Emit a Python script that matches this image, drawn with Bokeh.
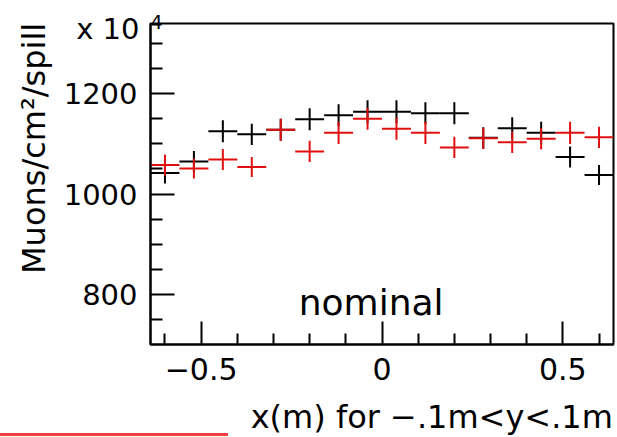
from bokeh.plotting import figure
from bokeh.models import Range1d, FixedTicker, Label, LinearAxis
from bokeh.embed import file_html
from bokeh.resources import INLINE

# ---- data ----
bin_centers = [-0.60, -0.52, -0.44, -0.36, -0.28, -0.20, -0.12, -0.04,
               0.04, 0.12, 0.20, 0.28, 0.36, 0.44, 0.52, 0.60]
bin_half_width = [0.04] * 16
black_vals = [1042, 1065, 1125, 1119, 1128, 1149, 1157, 1164,
              1164, 1161, 1161, 1112, 1131, 1122, 1074, 1038]
black_errs = [21, 21, 22, 21, 22, 22, 22, 23, 23, 22, 22, 21, 22, 22, 21, 20]
red_vals = [1058, 1051, 1069, 1054, 1128, 1085, 1122, 1150,
            1130, 1122, 1093, 1111, 1103, 1110, 1122, 1113]
red_errs = [21, 20, 21, 20, 22, 21, 22, 22, 22, 22, 21, 21, 21, 21, 22, 21]

x_major = [-0.5, 0.0, 0.5]
x_major_labels = {-0.5: "\u22120.5", 0.0: "0", 0.5: "0.5"}
x_minor = [-0.6, -0.4, -0.3, -0.2, -0.1, 0.1, 0.2, 0.3, 0.4, 0.6]
y_major = [800, 1000, 1200]
y_minor = [750, 850, 900, 950, 1050, 1100, 1150, 1250, 1300]
multiplier_pos = 1329
multiplier = "x 10"
exponent_pos = -0.6234
exponent = "4"

x_title = "x(m) for \u2212.1m<y<.1m"
x_title_pos = 0.1376
y_title = "Muons/cm\u00b2/spill"
note = "nominal"

FONT = "DejaVu Sans"
RED = "#e01010"
NBSP = "\u00a0"

p = figure(width=617, height=437, output_backend="svg", toolbar_location=None,
           x_range=Range1d(-0.64, 0.64), y_range=Range1d(700, 1340),
           min_border_left=150, min_border_right=4, min_border_top=23,
           min_border_bottom=93)
p.grid.visible = False
p.outline_line_color = "black"
p.outline_line_width = 2
p.background_fill_color = "white"
p.border_fill_color = None
# thin red stroke at the page's bottom-left corner (page decoration)
p.styles = {"background-color": "white",
            "background-image": "linear-gradient(#f04040, #f04040)",
            "background-repeat": "no-repeat",
            "background-position": "0px 433px",
            "background-size": "228px 3px"}


def text_axis(ticks, overrides, standoff, size, **kw):
    """An axis that only carries label text (no line, no ticks)."""
    return LinearAxis(ticker=FixedTicker(ticks=ticks),
                      major_label_overrides=overrides,
                      axis_line_color=None, major_tick_line_color=None,
                      minor_tick_line_color=None, major_tick_in=0, major_tick_out=0,
                      minor_tick_in=0, minor_tick_out=0,
                      major_label_standoff=standoff, major_label_text_font=FONT,
                      major_label_text_font_size=size,
                      major_label_text_color="black", **kw)


# x axis
xa = p.xaxis[0]
xa.ticker = FixedTicker(ticks=x_major, minor_ticks=x_minor)
xa.major_label_overrides = x_major_labels
xa.major_tick_in = 23
xa.major_tick_out = 0
xa.minor_tick_in = 11
xa.minor_tick_out = 0
xa.major_label_standoff = 13
xa.major_label_text_font = FONT
xa.major_label_text_font_size = "30px"
xa.major_label_text_color = "black"
xa.axis_line_width = 2
xa.major_tick_line_width = 2
xa.minor_tick_line_width = 2

# y axis
ya = p.yaxis[0]
ya.ticker = FixedTicker(ticks=y_major, minor_ticks=y_minor)
ya.major_tick_in = 24
ya.major_tick_out = 0
ya.minor_tick_in = 12
ya.minor_tick_out = 0
ya.major_label_standoff = 13
ya.major_label_text_font = FONT
ya.major_label_text_font_size = "29px"
ya.major_label_text_color = "black"
ya.axis_line_width = 2
ya.major_tick_line_width = 2
ya.minor_tick_line_width = 2
ya.axis_label = NBSP * 7 + y_title
ya.axis_label_text_font = FONT
ya.axis_label_text_font_size = "32px"
ya.axis_label_text_font_style = "normal"
ya.axis_label_text_color = "black"
ya.axis_label_standoff = 8

# "x 10" multiplier of the y axis (extra left axis, label pulled inwards)
p.add_layout(text_axis([multiplier_pos], {multiplier_pos: multiplier}, -128, "29px"), "left")

# exponent "4" of the multiplier, at the frame's top-left corner
p.add_layout(text_axis([exponent_pos], {exponent_pos: exponent}, -5, "19px"), "above")

# x-axis title, right-aligned under the frame (label pushed below the frame)
p.add_layout(text_axis([x_title_pos], {x_title_pos: x_title}, -424, "32px"), "above")


def draw(vals, errs, color):
    x0 = [c - h for c, h in zip(bin_centers, bin_half_width)]
    x1 = [c + h for c, h in zip(bin_centers, bin_half_width)]
    p.segment(x0=x0, y0=vals, x1=x1, y1=vals, line_color=color, line_width=2)
    lo = [v - e for v, e in zip(vals, errs)]
    hi = [v + e for v, e in zip(vals, errs)]
    p.segment(x0=bin_centers, y0=lo, x1=bin_centers, y1=hi, line_color=color, line_width=2)


draw(black_vals, black_errs, "black")
draw(red_vals, red_errs, RED)

# text inside the frame
p.add_layout(Label(x=-0.03, y=784, text=note, text_align="center",
                   text_baseline="middle", text_font=FONT,
                   text_font_size="36px", text_color="black"))

open("out.html", "w").write(file_html(p, INLINE))
